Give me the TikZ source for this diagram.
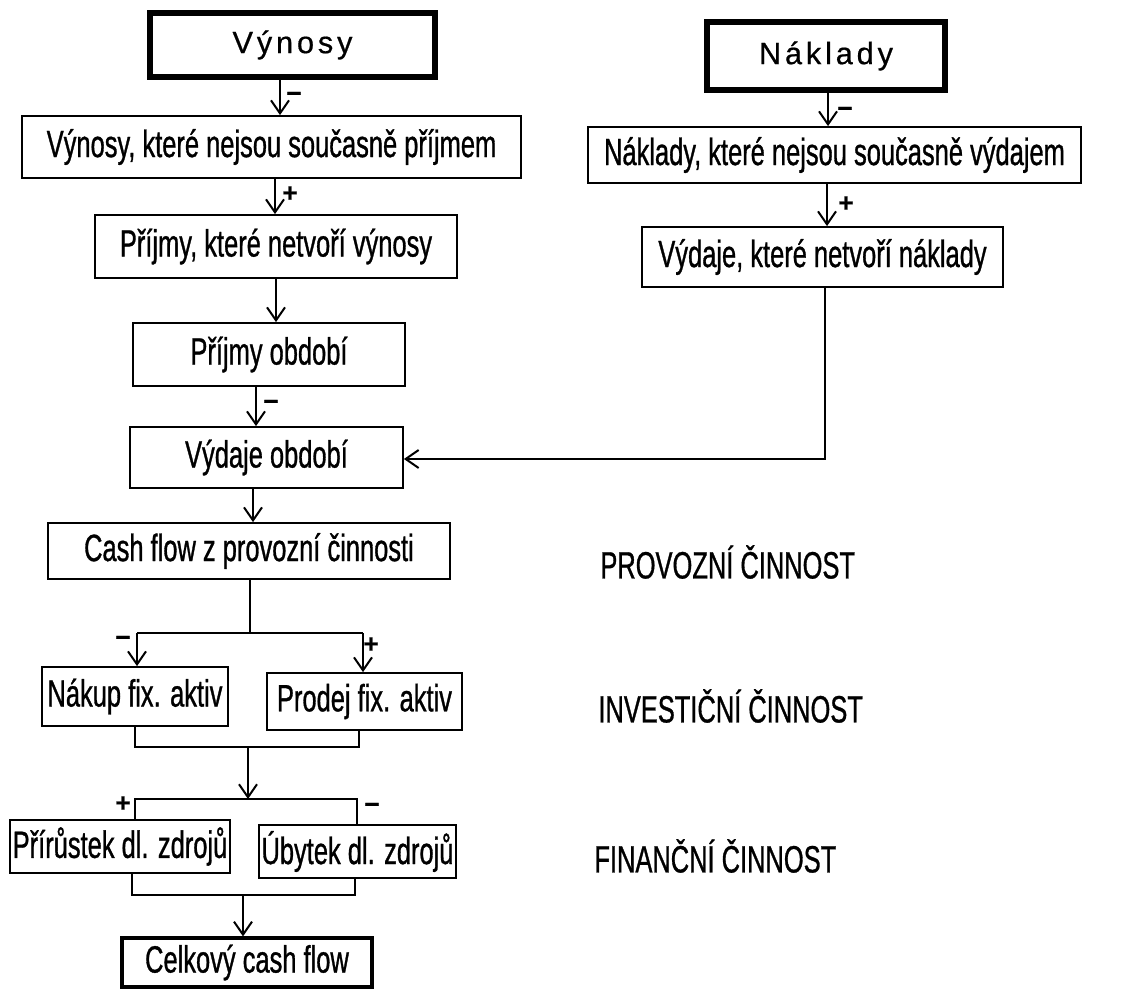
\documentclass[tikz,border=0pt]{standalone}
\usepackage{fontspec}
\setmainfont{Liberation Sans}[FakeStretch=0.67,FakeBold=0.8]
\newfontfamily\titlefont{Liberation Sans}[FakeBold=0.6]
\usetikzlibrary{arrows.meta}
\newcommand{\lsp}{\hspace{1.9pt}}
\begin{document}
\begin{tikzpicture}[x=0.5pt,y=-0.5pt,
  box/.style={draw, line width=0.9pt, inner sep=0pt, font=\fontsize{19}{22}\selectfont},
  tbox/.style={draw, line width=3pt, inner sep=0pt, font=\titlefont\fontsize{15.4}{18}\selectfont},
  cbox/.style={box, line width=1.6pt},
  conn/.style={line width=1pt},
  arr/.style={line width=1pt, -{Straight Barb[length=6.5pt,width=9pt]}},
  sign/.style={font=\titlefont\bfseries\fontsize{13}{13}\selectfont, inner sep=0pt},
  act/.style={anchor=west, inner sep=0pt, font=\fontsize{19}{22}\selectfont}]
\useasboundingbox (0,0) rectangle (1134,990);

% boxes
\node[tbox, minimum width=142.5pt, minimum height=32pt] (vyn) at (292.5,45) {V\lsp ý\lsp n\lsp o\lsp s\lsp y};
\node[tbox, minimum width=119pt, minimum height=34pt] (nak) at (826,56) {N\lsp á\lsp k\lsp l\lsp a\lsp d\lsp y};
\node[box, minimum width=249.5pt, minimum height=31pt] (b3) at (271.5,147) {Výnosy, které nejsou současně příjmem};
\node[box, minimum width=246.5pt, minimum height=28pt] (b4) at (834.5,155) {Náklady, které nejsou současně výdajem};
\node[box, minimum width=181pt, minimum height=31.5pt] (b5) at (276,246.5) {Příjmy, které netvoří výnosy};
\node[box, minimum width=180.5pt, minimum height=30pt] (b6) at (822.5,257) {Výdaje, které netvoří náklady};
\node[box, minimum width=136pt, minimum height=31.5pt] (b7) at (269,354.5) {Příjmy období};
\node[box, minimum width=136.5pt, minimum height=30.5pt] (b8) at (266.5,457.5) {Výdaje období};
\node[box, minimum width=201pt, minimum height=28pt] (b9) at (249,551) {Cash flow z provozní činnosti};
\node[box, minimum width=93pt, minimum height=29.5pt] (b10) at (135,696.5) {Nákup fix. aktiv};
\node[box, minimum width=97.5pt, minimum height=28.5pt] (b11) at (364.5,701.5) {Prodej fix. aktiv};
\node[box, minimum width=110pt, minimum height=26.5pt] (b12) at (120,846.5) {Přírůstek dl. zdrojů};
\node[box, minimum width=98.5pt, minimum height=26.5pt] (b13) at (357.5,851.5) {Úbytek dl. zdrojů};
\node[cbox, minimum width=125pt, minimum height=24.5pt] (b14) at (247,962.5) {Celkový cash flow};

% activity labels
\node[act] (l1) at (600,562) {PROVOZNÍ ČINNOST};
\node[act] (l2) at (598,706) {INVESTIČNÍ ČINNOST};
\node[act] (l3) at (594,856) {FINANČNÍ ČINNOST};

% left column arrows
\draw[arr] (vyn.south -| 280,0) -- (b3.north -| 280,0);
\draw[arr] (b3.south -| 275,0) -- (b5.north -| 275,0);
\draw[arr] (b5.south -| 276,0) -- (b7.north -| 276,0);
\draw[arr] (b7.south -| 256,0) -- (b8.north -| 256,0);
\draw[arr] (b8.south -| 253,0) -- (b9.north -| 253,0);

% right column arrows
\draw[arr] (nak.south -| 828,0) -- (b4.north -| 828,0);
\draw[arr] (b4.south -| 827,0) -- (b6.north -| 827,0);
\draw[arr] (b6.south -| 825,0) |- (b8.east |- 0,459);

% signs
\node[sign] (m1) at (294,97) {−};
\node[sign] (p1) at (290,194) {+};
\node[sign] (m2) at (271,405) {−};
\node[sign] (m3) at (845,112) {−};
\node[sign] (p2) at (846,204) {+};

% investment split
\coordinate (s1) at (250,633);
\coordinate (s1L) at (137,633);
\coordinate (s1R) at (363,633);
\draw[conn] (b9.south -| s1) -- (s1);
\draw[conn] (s1L) -- (s1R);
\draw[arr] (s1L) -- (b10.north -| s1L);
\draw[arr] (s1R) -- (b11.north -| s1R);
\node[sign] (m4) at (123,641) {−};
\node[sign] (p3) at (371,645) {+};

% investment join
\coordinate (j1L) at (135,747);
\coordinate (j1R) at (359,747);
\coordinate (j1) at (248,747);
\coordinate (s2) at (248,799);
\draw[conn] (b10.south -| j1L) |- (j1R) -- (b11.south -| j1R);
\draw[arr] (j1) -- (s2);

% financing split
\coordinate (s2L) at (135,799);
\coordinate (s2R) at (357,799);
\draw[conn] (b12.north -| s2L) |- (s2R) -- (b13.north -| s2R);
\node[sign] (p4) at (123,804) {+};
\node[sign] (m5) at (372,808) {−};

% financing join
\coordinate (j2L) at (132,895);
\coordinate (j2R) at (355,895);
\coordinate (j2) at (243,895);
\draw[conn] (b12.south -| j2L) |- (j2R) -- (b13.south -| j2R);
\draw[arr] (j2) -- (b14.north -| j2);
\end{tikzpicture}
\end{document}
